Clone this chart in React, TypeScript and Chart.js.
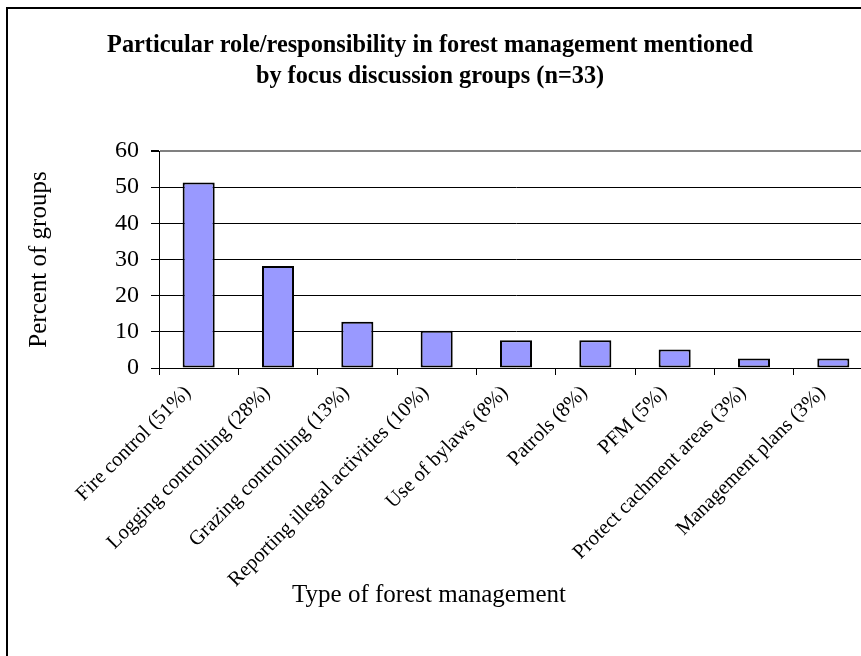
import React, { useEffect, useRef } from "react";
import { Chart, registerables } from "chart.js";

Chart.register(...registerables);

const categories = [
  "Fire control (51%)",
  "Logging controlling (28%)",
  "Grazing controlling (13%)",
  "Reporting illegal activities (10%)",
  "Use of bylaws (8%)",
  "Patrols (8%)",
  "PFM (5%)",
  "Protect cachment areas (3%)",
  "Management plans (3%)",
];
const percentOfGroups = [51.3, 28.2, 12.8, 10.3, 7.7, 7.7, 5.1, 2.6, 2.6];
const yMin = 0;
const yMax = 60;
const yStep = 10;
const titleLines = [
  "Particular role/responsibility in forest management mentioned",
  "by focus discussion groups (n=33)",
];
const xTitle = "Type of forest management";
const yTitle = "Percent of groups";

const W = 880;
const H = 700;
const FONT = "'Liberation Serif', 'Times New Roman', serif";

const decor = {
  id: "decor",
  beforeDraw(chart: any) {
    const ctx = chart.ctx;
    ctx.save();
    ctx.fillStyle = "#ffffff";
    ctx.fillRect(0, 0, W, H);
    ctx.strokeStyle = "#000000";
    ctx.lineWidth = 2;
    ctx.strokeRect(7, 8, W + 40, H + 40);
    ctx.restore();
  },
  afterDraw(chart: any) {
    const ctx = chart.ctx;
    ctx.save();
    ctx.fillStyle = "#000000";
    ctx.textAlign = "center";
    ctx.textBaseline = "alphabetic";
    ctx.font = `bold 24.3px ${FONT}`;
    ctx.fillText(titleLines[0], 430, 52);
    ctx.fillText(titleLines[1], 430, 83);
    ctx.font = `25px ${FONT}`;
    ctx.fillText(xTitle, 429, 602);
    ctx.restore();
  },
};

export default function App() {
  const ref = useRef<HTMLCanvasElement | null>(null);

  useEffect(() => {
    if (!ref.current) return;
    const chart = new Chart(ref.current, {
      type: "bar",
      data: {
        labels: categories,
        datasets: [
          {
            data: percentOfGroups,
            backgroundColor: "#9999ff",
            borderColor: "#000000",
            borderWidth: 2,
            borderSkipped: false,
            barPercentage: 0.404,
            categoryPercentage: 1,
          },
        ],
      },
      options: {
        responsive: false,
        animation: false,
        devicePixelRatio: 1,
        layout: { padding: { top: 151, left: 0, right: 7, bottom: 0 } },
        plugins: {
          legend: { display: false },
          title: { display: false },
          tooltip: { enabled: false },
        },
        scales: {
          x: {
            offset: true,
            grid: {
              display: true,
              drawOnChartArea: false,
              drawTicks: true,
              tickLength: 7,
              color: "#000000",
              offset: true,
            },
            border: { display: true, color: "#000000", width: 1 },
            ticks: {
              autoSkip: false,
              maxRotation: 45,
              minRotation: 45,
              color: "#000000",
              font: { family: FONT, size: 20.5 },
              padding: 6,
              labelOffset: -11,
            },
            afterFit(scale: any) {
              scale.height = H - 368;
            },
          },
          y: {
            min: yMin,
            max: yMax,
            grid: {
              color: (c: any) => (c.tick && c.tick.value === yMax ? "#808080" : "#000000"),
              lineWidth: (c: any) => (c.tick && c.tick.value === yMax ? 2 : 1),
              tickColor: "#000000",
              tickLength: 8,
              drawTicks: true,
            },
            border: { display: true, color: "#000000", width: 1 },
            ticks: {
              stepSize: yStep,
              color: "#000000",
              font: { family: FONT, size: 24 },
              padding: 12,
            },
            title: {
              display: true,
              text: yTitle,
              color: "#000000",
              font: { family: FONT, size: 25 },
              padding: { top: 24, bottom: 0 },
            },
            afterFit(scale: any) {
              scale.width = 159;
            },
          },
        },
      },
      plugins: [decor],
    });
    return () => chart.destroy();
  }, []);

  return (
    <div
      style={{
        position: "fixed",
        left: 0,
        top: 0,
        width: 861,
        height: 656,
        overflow: "hidden",
        background: "#fff",
      }}
    >
      <canvas ref={ref} width={W} height={H} style={{ width: W, height: H, display: "block" }} />
    </div>
  );
}
